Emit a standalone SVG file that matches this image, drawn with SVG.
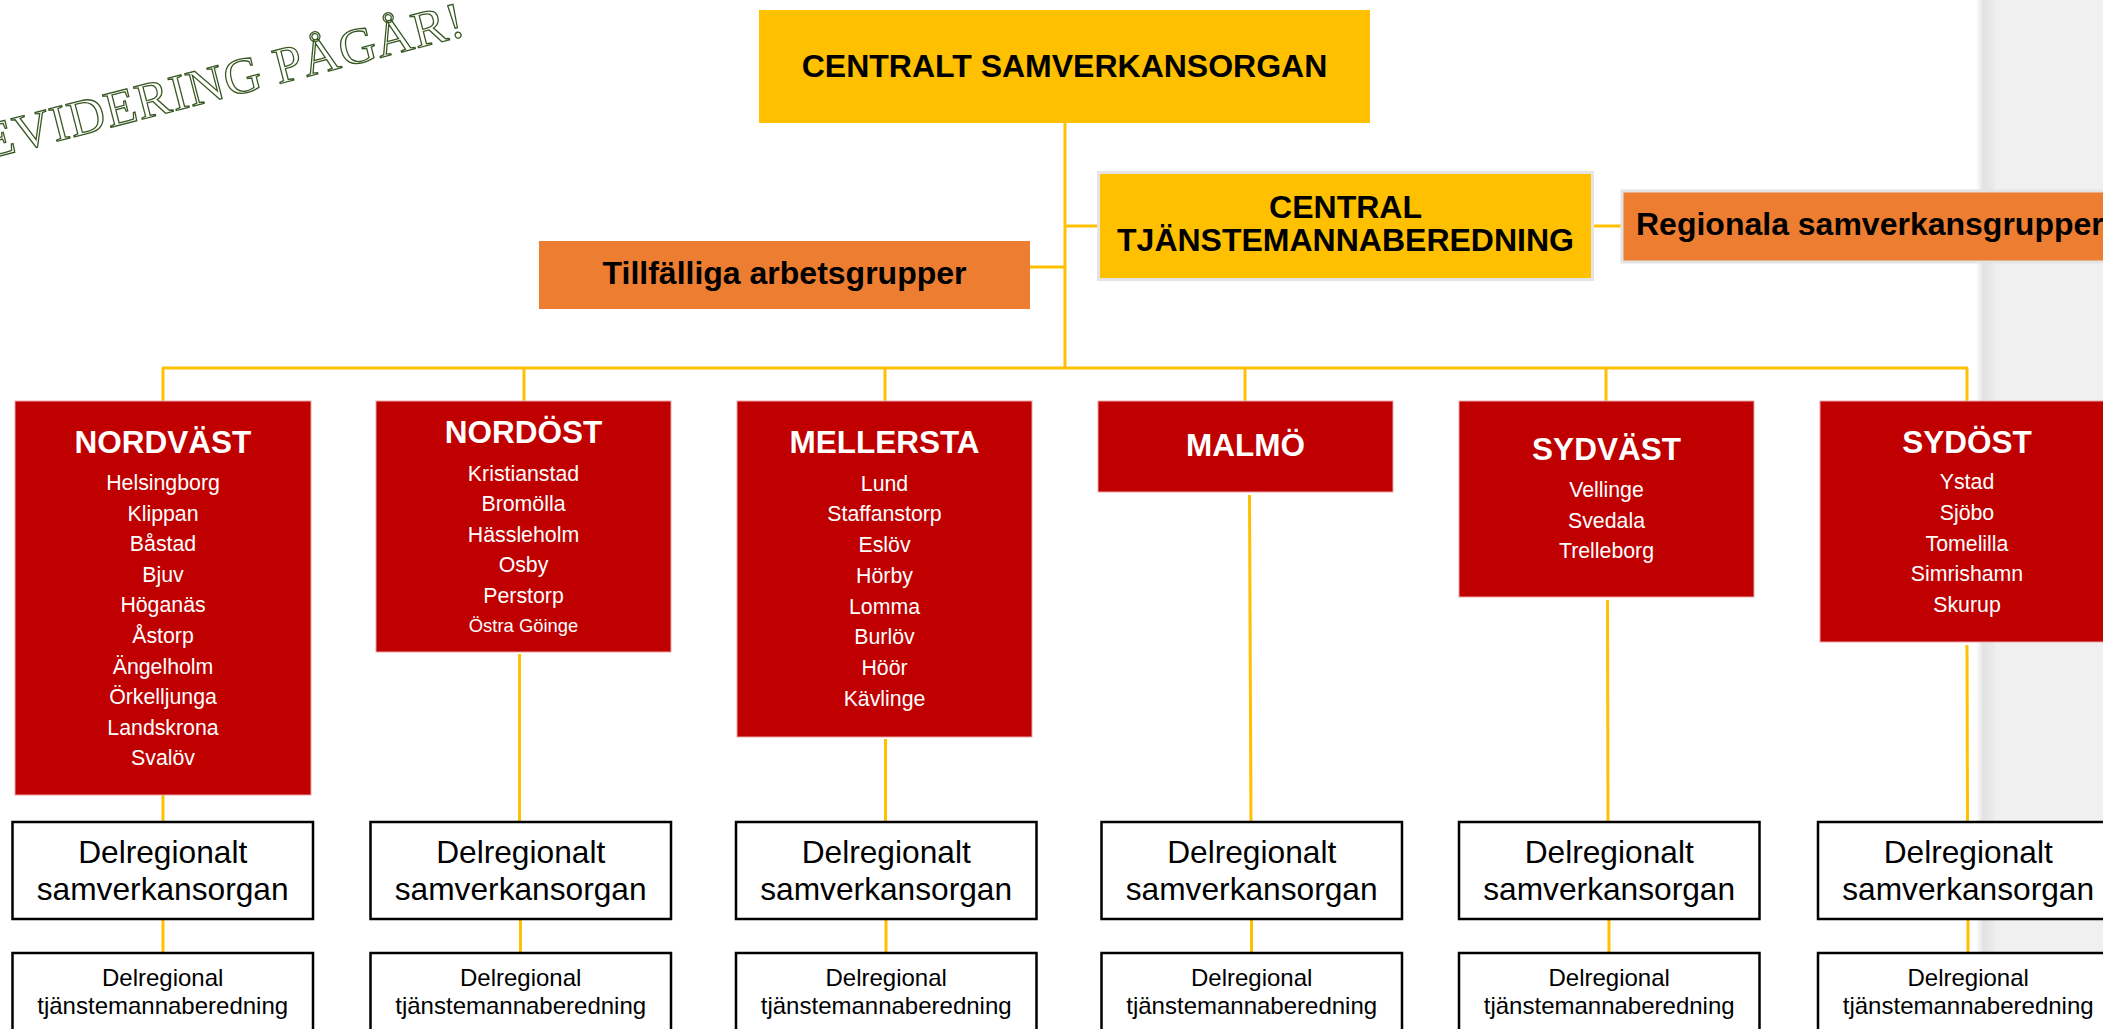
<svg xmlns="http://www.w3.org/2000/svg" width="2103" height="1029" viewBox="0 0 2103 1029">
<defs>
<linearGradient id="shade" x1="0" y1="0" x2="1" y2="0">
<stop offset="0" stop-color="#ffffff"/>
<stop offset="0.4" stop-color="#e2e2e2"/>
<stop offset="1" stop-color="#ececec"/>
</linearGradient>
<style>
.conn{stroke:#FFC000;stroke-width:3;fill:none}
.yel{fill:#FFC000}
.org{fill:#ED7D31}
.red{fill:#C00000;stroke:#e9a5a5;stroke-width:1}
.wbox{fill:#ffffff;stroke:#000000;stroke-width:2.5}
.hd{font-family:"Liberation Sans",Arial,sans-serif;font-weight:bold;font-size:32px;fill:#000;text-anchor:middle}
.rt{font-family:"Liberation Sans",Arial,sans-serif;font-weight:bold;font-size:31.5px;fill:#fff;text-anchor:middle}
.ct{font-family:"Liberation Sans",Arial,sans-serif;font-size:21.3px;fill:#fff;text-anchor:middle}
.ct2{font-family:"Liberation Sans",Arial,sans-serif;font-size:18.4px;fill:#fff;text-anchor:middle}
.b1{font-family:"Liberation Sans",Arial,sans-serif;font-size:31.7px;fill:#000;text-anchor:middle}
.b2{font-family:"Liberation Sans",Arial,sans-serif;font-size:24px;fill:#000;text-anchor:middle}
</style>
</defs>
<rect width="2103" height="1029" fill="#ffffff"/>
<g id="panel">
<rect x="1976" y="0" width="19" height="1029" fill="url(#shade)"/>
<rect x="1995" y="0" width="108" height="1029" fill="#f0f0f0"/>
</g>
<g id="watermark" transform="translate(468,35) rotate(-14.5)">
<text x="0" y="0" text-anchor="end" font-family="Liberation Serif,serif" font-size="51" fill="#ffffff" stroke="#385723" stroke-width="1.3" letter-spacing="1">EVIDERING PÅGÅR!</text>
</g>
<g id="connectors">
<line class="conn" x1="1065" y1="123" x2="1065" y2="369"/>
<line class="conn" x1="1030" y1="267" x2="1065" y2="267"/>
<line class="conn" x1="1065" y1="226" x2="1098" y2="226"/>
<line class="conn" x1="1594" y1="226" x2="1622" y2="226"/>
<line class="conn" x1="162" y1="368" x2="1968" y2="368"/>
<line class="conn" x1="163" y1="368" x2="163" y2="401"/>
<line class="conn" x1="524" y1="368" x2="524" y2="401"/>
<line class="conn" x1="885" y1="368" x2="885" y2="401"/>
<line class="conn" x1="1245" y1="368" x2="1245" y2="401"/>
<line class="conn" x1="1606" y1="368" x2="1606" y2="401"/>
<line class="conn" x1="1967" y1="368" x2="1967" y2="401"/>
<line class="conn" x1="163" y1="795" x2="163" y2="822"/>
<line class="conn" x1="163" y1="919" x2="163" y2="953"/>
<line class="conn" x1="519.5" y1="654" x2="519.5" y2="822"/>
<line class="conn" x1="520.5" y1="919" x2="520.5" y2="953"/>
<line class="conn" x1="885.5" y1="739" x2="885.5" y2="822"/>
<line class="conn" x1="886" y1="919" x2="886" y2="953"/>
<line class="conn" x1="1249.5" y1="495" x2="1251" y2="822"/>
<line class="conn" x1="1251.5" y1="919" x2="1251.5" y2="953"/>
<line class="conn" x1="1607.5" y1="600" x2="1608" y2="822"/>
<line class="conn" x1="1609" y1="919" x2="1609" y2="953"/>
<line class="conn" x1="1967" y1="645" x2="1967.5" y2="822"/>
<line class="conn" x1="1968" y1="919" x2="1968" y2="953"/>
</g>
<g id="central">
<rect class="yel" x="759" y="10" width="611" height="113"/>
<text class="hd" x="1064.5" y="77">CENTRALT SAMVERKANSORGAN</text>
</g>
<g id="central-tj">
<rect class="yel" x="1098.5" y="172.5" width="494" height="107" stroke="#e4e4e4" stroke-width="3"/>
<text class="hd" x="1345.5" y="218">CENTRAL</text>
<text class="hd" x="1345.5" y="251">TJÄNSTEMANNABEREDNING</text>
</g>
<g id="regionala">
<rect class="org" x="1622" y="191" width="500" height="71" stroke="#e4e4e4" stroke-width="3"/>
<text class="hd" x="1636" y="235" text-anchor="start" style="text-anchor:start">Regionala samverkansgrupper</text>
</g>
<g id="tillfalliga">
<rect class="org" x="539" y="241" width="491" height="68"/>
<text class="hd" x="784.5" y="284">Tillfälliga arbetsgrupper</text>
</g>
<g id="nordvast">
<rect class="red" x="15" y="401" width="296" height="394"/>
<text class="rt" x="163" y="453">NORDVÄST</text>
<text class="ct" x="163" y="490">Helsingborg</text>
<text class="ct" x="163" y="520.6">Klippan</text>
<text class="ct" x="163" y="551.2">Båstad</text>
<text class="ct" x="163" y="581.8">Bjuv</text>
<text class="ct" x="163" y="612.4">Höganäs</text>
<text class="ct" x="163" y="643">Åstorp</text>
<text class="ct" x="163" y="673.6">Ängelholm</text>
<text class="ct" x="163" y="704.2">Örkelljunga</text>
<text class="ct" x="163" y="734.8">Landskrona</text>
<text class="ct" x="163" y="765.4">Svalöv</text>
</g>
<g id="nordost">
<rect class="red" x="376" y="401" width="295" height="251"/>
<text class="rt" x="523.5" y="443">NORDÖST</text>
<text class="ct" x="523.5" y="480.7">Kristianstad</text>
<text class="ct" x="523.5" y="511">Bromölla</text>
<text class="ct" x="523.5" y="541.7">Hässleholm</text>
<text class="ct" x="523.5" y="572.3">Osby</text>
<text class="ct" x="523.5" y="602.7">Perstorp</text>
<text class="ct2" x="523.5" y="631.7">Östra Göinge</text>
</g>
<g id="mellersta">
<rect class="red" x="737" y="401" width="295" height="336"/>
<text class="rt" x="884.5" y="453">MELLERSTA</text>
<text class="ct" x="884.5" y="490.7">Lund</text>
<text class="ct" x="884.5" y="521.4">Staffanstorp</text>
<text class="ct" x="884.5" y="552.1">Eslöv</text>
<text class="ct" x="884.5" y="582.8">Hörby</text>
<text class="ct" x="884.5" y="613.5">Lomma</text>
<text class="ct" x="884.5" y="644.2">Burlöv</text>
<text class="ct" x="884.5" y="674.9">Höör</text>
<text class="ct" x="884.5" y="705.6">Kävlinge</text>
</g>
<g id="malmo">
<rect class="red" x="1098" y="401" width="295" height="91"/>
<text class="rt" x="1245.5" y="456">MALMÖ</text>
</g>
<g id="sydvast">
<rect class="red" x="1459" y="401" width="295" height="196"/>
<text class="rt" x="1606.5" y="460">SYDVÄST</text>
<text class="ct" x="1606.5" y="497">Vellinge</text>
<text class="ct" x="1606.5" y="527.7">Svedala</text>
<text class="ct" x="1606.5" y="558.3">Trelleborg</text>
</g>
<g id="sydost">
<rect class="red" x="1820" y="401" width="295" height="241"/>
<text class="rt" x="1967" y="453">SYDÖST</text>
<text class="ct" x="1967" y="489">Ystad</text>
<text class="ct" x="1967" y="519.8">Sjöbo</text>
<text class="ct" x="1967" y="550.6">Tomelilla</text>
<text class="ct" x="1967" y="581.4">Simrishamn</text>
<text class="ct" x="1967" y="612.2">Skurup</text>
</g>
<g id="delorgan-1"><rect class="wbox" x="12.5" y="822" width="300.5" height="97"/><text class="b1" x="162.7" y="863">Delregionalt</text><text class="b1" x="162.7" y="900">samverkansorgan</text></g>
<g id="delorgan-2"><rect class="wbox" x="370.5" y="822" width="300.5" height="97"/><text class="b1" x="520.7" y="863">Delregionalt</text><text class="b1" x="520.7" y="900">samverkansorgan</text></g>
<g id="delorgan-3"><rect class="wbox" x="736" y="822" width="300.5" height="97"/><text class="b1" x="886.2" y="863">Delregionalt</text><text class="b1" x="886.2" y="900">samverkansorgan</text></g>
<g id="delorgan-4"><rect class="wbox" x="1101.5" y="822" width="300.5" height="97"/><text class="b1" x="1251.7" y="863">Delregionalt</text><text class="b1" x="1251.7" y="900">samverkansorgan</text></g>
<g id="delorgan-5"><rect class="wbox" x="1459" y="822" width="300.5" height="97"/><text class="b1" x="1609.2" y="863">Delregionalt</text><text class="b1" x="1609.2" y="900">samverkansorgan</text></g>
<g id="delorgan-6"><rect class="wbox" x="1818" y="822" width="300.5" height="97"/><text class="b1" x="1968.2" y="863">Delregionalt</text><text class="b1" x="1968.2" y="900">samverkansorgan</text></g>
<g id="delbered-1"><rect class="wbox" x="12.5" y="953" width="300.5" height="90"/><text class="b2" x="162.7" y="986">Delregional</text><text class="b2" x="162.7" y="1014">tjänstemannaberedning</text></g>
<g id="delbered-2"><rect class="wbox" x="370.5" y="953" width="300.5" height="90"/><text class="b2" x="520.7" y="986">Delregional</text><text class="b2" x="520.7" y="1014">tjänstemannaberedning</text></g>
<g id="delbered-3"><rect class="wbox" x="736" y="953" width="300.5" height="90"/><text class="b2" x="886.2" y="986">Delregional</text><text class="b2" x="886.2" y="1014">tjänstemannaberedning</text></g>
<g id="delbered-4"><rect class="wbox" x="1101.5" y="953" width="300.5" height="90"/><text class="b2" x="1251.7" y="986">Delregional</text><text class="b2" x="1251.7" y="1014">tjänstemannaberedning</text></g>
<g id="delbered-5"><rect class="wbox" x="1459" y="953" width="300.5" height="90"/><text class="b2" x="1609.2" y="986">Delregional</text><text class="b2" x="1609.2" y="1014">tjänstemannaberedning</text></g>
<g id="delbered-6"><rect class="wbox" x="1818" y="953" width="300.5" height="90"/><text class="b2" x="1968.2" y="986">Delregional</text><text class="b2" x="1968.2" y="1014">tjänstemannaberedning</text></g>
</svg>
